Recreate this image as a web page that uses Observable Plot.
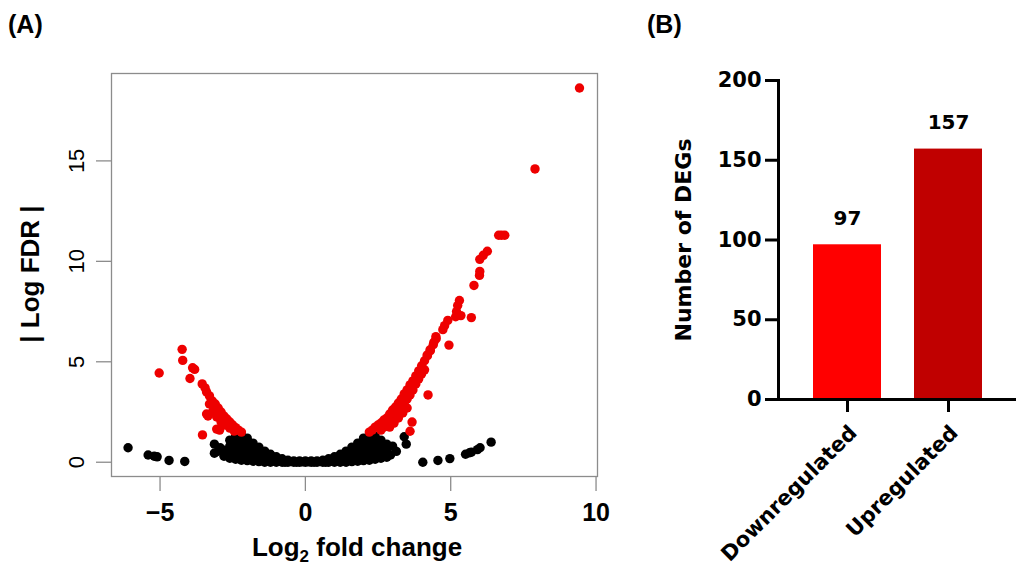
<!DOCTYPE html>
<html><head><meta charset="utf-8">
<script src="https://cdn.jsdelivr.net/npm/d3@7"></script>
<script src="https://cdn.jsdelivr.net/npm/@observablehq/plot@0.6"></script>
<style>
body{margin:0;background:#fff;}
#wrap{position:relative;width:1016px;height:569px;overflow:hidden;font-family:"Liberation Sans",Arial,sans-serif;background:#fff;}
.panel{position:absolute;top:0;}
.lab{position:absolute;font-weight:bold;font-size:25px;line-height:1;}
.xt{position:absolute;font-weight:bold;font-size:26px;line-height:1;transform:translate(-50%,-50%);white-space:nowrap;}
.yt{position:absolute;font-weight:bold;font-size:26px;line-height:1;transform:translate(-50%,-50%) rotate(-90deg);white-space:nowrap;}
sub{font-size:17px;vertical-align:-6px;}
</style></head><body>
<div id="wrap">
  <div id="pa" class="panel" style="left:0"></div>
  <div id="pb" class="panel" style="left:620px"></div>
  <div class="lab" style="left:8px;top:12px">(A)</div>
  <div class="lab" style="left:647px;top:12px">(B)</div>
  <div class="xt" style="left:357px;top:549px">Log<sub>2</sub> fold change</div>
  <div class="yt" style="left:30px;top:274px">| Log FDR |</div>
</div>
<script>
// ---- Panel A: volcano plot (log2 fold change, |log FDR|) ----
const nonSigGenes = [
  [0,0],[0,0.06],[0.2,0],[0.2,0.06],[-0.2,0],[-0.2,0.06],[0.4,0],[0.4,0.07],[-0.4,0],[-0.4,0.07],
  [0.6,0],[0.6,0.1],[-0.6,0],[-0.6,0.1],[0.8,0],[0.8,0.17],[-0.8,0],[-0.8,0.17],[1.0,0],[1.0,0.27],[-1.0,0],[-1.0,0.27],
  [0.1,0.02],[-0.1,0.02],[0.3,0],[-0.3,0],[0.5,0.03],[-0.5,0.03],[0.7,0],[-0.7,0],[0.9,0.1],[-0.9,0.1],
  [1.1,0.12],[-1.1,0.12],[1.3,0.15],[-1.3,0.15],[1.5,0.45],[-1.5,0.45],[1.7,0.5],[-1.7,0.5],
  [1.9,0.75],[-1.9,0.75],[2.1,0.55],[-2.1,0.55],[2.3,0.9],[-2.3,0.9],[2.5,0.6],[-2.5,0.6],[2.7,0.4],[-2.7,0.4],
  [1.2,0],[1.2,0.2],[1.2,0.4],[-1.2,0],[-1.2,0.2],[-1.2,0.4],
  [1.4,0],[1.4,0.28],[1.4,0.55],[-1.4,0],[-1.4,0.28],[-1.4,0.55],
  [1.6,0.03],[1.6,0.3],[1.6,0.55],[1.6,0.75],[-1.6,0.03],[-1.6,0.3],[-1.6,0.55],[-1.6,0.75],
  [1.8,0.05],[1.8,0.32],[1.8,0.62],[1.8,0.95],[-1.8,0.05],[-1.8,0.32],[-1.8,0.62],[-1.8,0.95],
  [2.0,0.08],[2.0,0.36],[2.0,0.66],[2.0,0.95],[2.0,1.2],[-2.0,0.08],[-2.0,0.36],[-2.0,0.66],[-2.0,0.95],[-2.0,1.2],
  [2.2,0.1],[2.2,0.4],[2.2,0.7],[2.2,1.0],[2.2,1.35],[-2.2,0.1],[-2.2,0.4],[-2.2,0.7],[-2.2,1.0],[-2.2,1.35],
  [2.4,0.15],[2.4,0.45],[2.4,0.75],[2.4,1.05],[2.4,1.3],[-2.4,0.15],[-2.4,0.45],[-2.4,0.75],[-2.4,1.05],[-2.4,1.3],
  [2.6,0.2],[2.6,0.5],[2.6,0.8],[2.6,1.1],[-2.6,0.2],[-2.6,0.5],[-2.6,0.8],[-2.6,1.1],
  [2.8,0.25],[2.8,0.55],[2.8,0.9],[-2.8,0.3],[-2.8,0.6],
  [-6.1,0.72],[-5.41,0.36],[-5.2,0.3],[-5.1,0.27],[-4.69,0.09],[-4.15,0.04],
  [-3.13,0.9],[-3.13,0.45],[-2.93,0.72],[-3.0,0.55],
  [3.4,1.27],[3.47,0.9],[3.13,0.54],[2.93,0.36],[3.0,0.8],
  [4.04,0],[4.56,0.09],[4.97,0.18],[5.51,0.4],[5.65,0.47],[5.71,0.5],[5.92,0.63],[6.01,0.72],[6.39,1.0]
];
const downGenes = [
  [-2.2,1.5],[-2.3,1.6],[-2.4,1.72],[-2.5,1.85],[-2.6,2.0],[-2.7,2.15],[-2.8,2.3],[-2.9,2.5],[-3.0,2.7],
  [-3.1,2.9],[-3.2,3.05],[-3.3,3.3],[-3.4,3.5],[-3.45,3.7],[-3.55,3.9],
  [-2.45,1.55],[-2.6,1.7],[-2.75,1.85],[-2.9,2.0],[-3.05,2.25],[-3.2,2.5],[-3.35,2.3],[-3.4,2.4],
  [-3.05,1.65],[-2.95,1.6],[-3.54,1.36],[-2.8,2.0],[-3.0,2.4],[-3.15,2.7],[-3.3,2.9],
  [-5.03,4.44],[-4.24,5.62],[-4.22,5.07],[-3.88,4.7],[-3.81,4.62],[-3.97,4.17]
];
const upGenes = [
  [2.2,1.5],[2.3,1.6],[2.4,1.75],[2.5,1.85],[2.6,1.95],[2.7,2.1],[2.8,2.2],[2.9,2.4],[3.0,2.6],[3.1,2.75],
  [3.2,2.95],[3.3,3.15],[3.4,3.4],[3.5,3.6],[3.6,3.85],[3.7,4.05],[3.8,4.3],[3.9,4.55],[4.0,4.8],[4.1,5.05],
  [4.2,5.3],[4.3,5.55],[4.4,5.85],[4.5,6.15],
  [2.6,1.6],[2.7,1.75],[2.8,1.9],[2.9,2.05],[3.0,2.2],[3.1,2.4],[3.2,2.55],[3.3,2.75],[3.4,2.95],[3.5,3.15],
  [3.6,3.35],[3.7,3.6],[3.8,3.9],[3.9,4.15],[4.0,4.4],[4.1,4.6],
  [2.9,1.75],[3.05,1.95],[3.2,2.2],[3.35,2.45],[3.5,2.7],[3.0,2.0],
  [3.67,2.0],[3.6,1.54],[4.22,3.35],[4.94,5.83],[5.71,7.2],
  [4.29,5.6],[4.19,5.34],[4.42,5.97],[4.49,6.25],[4.73,6.6],[4.79,6.8],[4.9,7.06],
  [5.17,7.24],[5.2,7.5],[5.24,7.8],[5.3,8.05],[5.35,7.3],
  [5.8,8.8],[5.99,9.3],[6.0,9.5],[6.0,10.1],[6.12,10.3],[6.26,10.5],
  [6.65,11.3],[6.75,11.3],[6.86,11.3],[7.9,14.6],[9.43,18.63]
];
const fcTicks = [-5, 0, 5, 10];
const fdrTicks = [0, 5, 10, 15];

// ---- Panel B: number of DEGs ----
const categories = ["Downregulated", "Upregulated"];
const degCounts = [97, 157];
const barColors = ["#ff0000", "#c00000"];
const countTicks = [0, 50, 100, 150, 200];

const gray = "#8c8c8c";
const A = Plot.plot({
  width: 620, height: 569,
  marginLeft: 111, marginRight: 23, marginTop: 73, marginBottom: 93,
  x: {domain: [-6.67, 10.05]},
  y: {domain: [-0.71, 19.35]},
  style: {fontFamily: "Liberation Sans, Arial, sans-serif", background: "transparent", color: "black"},
  marks: [
    Plot.frame({stroke: gray, strokeWidth: 1.3}),
    Plot.dot(nonSigGenes, {x: d => d[0], y: d => d[1], r: 4.7, fill: "black"}),
    Plot.dot(downGenes, {x: d => d[0], y: d => d[1], r: 4.7, fill: "#ee0000"}),
    Plot.dot(upGenes, {x: d => d[0], y: d => d[1], r: 4.7, fill: "#ee0000"}),
    Plot.axisX(fcTicks, {tickSize: 15, stroke: gray, strokeWidth: 1.3, tickPadding: 12, fontSize: 25, fontWeight: "bold", fill: "black", label: null, tickFormat: d => d < 0 ? "\u2212" + Math.abs(d) : String(d)}),
    Plot.axisY(fdrTicks, {tickSize: 15, stroke: gray, strokeWidth: 1.3, tickFormat: () => "", label: null}),
    Plot.text(fdrTicks, {y: d => d, frameAnchor: "left", dx: -35, rotate: -90, text: d => String(d), fontSize: 22, textAnchor: "middle", fill: "black"})
  ]
});
document.getElementById("pa").appendChild(A);

const bars = categories.map((c, i) => ({category: c, count: degCounts[i]}));
const B = Plot.plot({
  width: 396, height: 569,
  marginLeft: 158, marginRight: 0, marginTop: 80, marginBottom: 170,
  x: {domain: categories, paddingInner: 0.327, paddingOuter: 0.34, axis: null},
  y: {domain: [0, 200], axis: null},
  color: {domain: categories, range: barColors},
  style: {fontFamily: "DejaVu Sans, sans-serif", background: "transparent", color: "black"},
  marks: [
    Plot.barY(bars, {x: "category", y: "count", fill: "category"}),
    Plot.text(bars, {x: "category", y: "count", text: d => String(d.count), dy: -26, fontSize: 20, fontWeight: "bold", fill: "black"}),
    Plot.frame({anchor: "left", stroke: "black", strokeWidth: 3}),
    Plot.frame({anchor: "bottom", stroke: "black", strokeWidth: 3}),
    Plot.axisY(countTicks, {tickSize: 13, strokeWidth: 3, tickPadding: 4, fontSize: 21, fontWeight: "bold", label: null}),
    Plot.axisX(categories, {tickSize: 13, strokeWidth: 3, tickFormat: () => "", label: null}),
    Plot.text(categories, {x: d => d, frameAnchor: "bottom", rotate: -45, textAnchor: "end", lineAnchor: "top", dx: 0, dy: 24, fontSize: 21, fontWeight: "bold", fill: "black"}),
    Plot.text(["Number of DEGs"], {frameAnchor: "left", dx: -95, rotate: -90, textAnchor: "middle", fontSize: 22, fontWeight: "bold", fill: "black"})
  ]
});
document.getElementById("pb").appendChild(B);
</script>
</body></html>
